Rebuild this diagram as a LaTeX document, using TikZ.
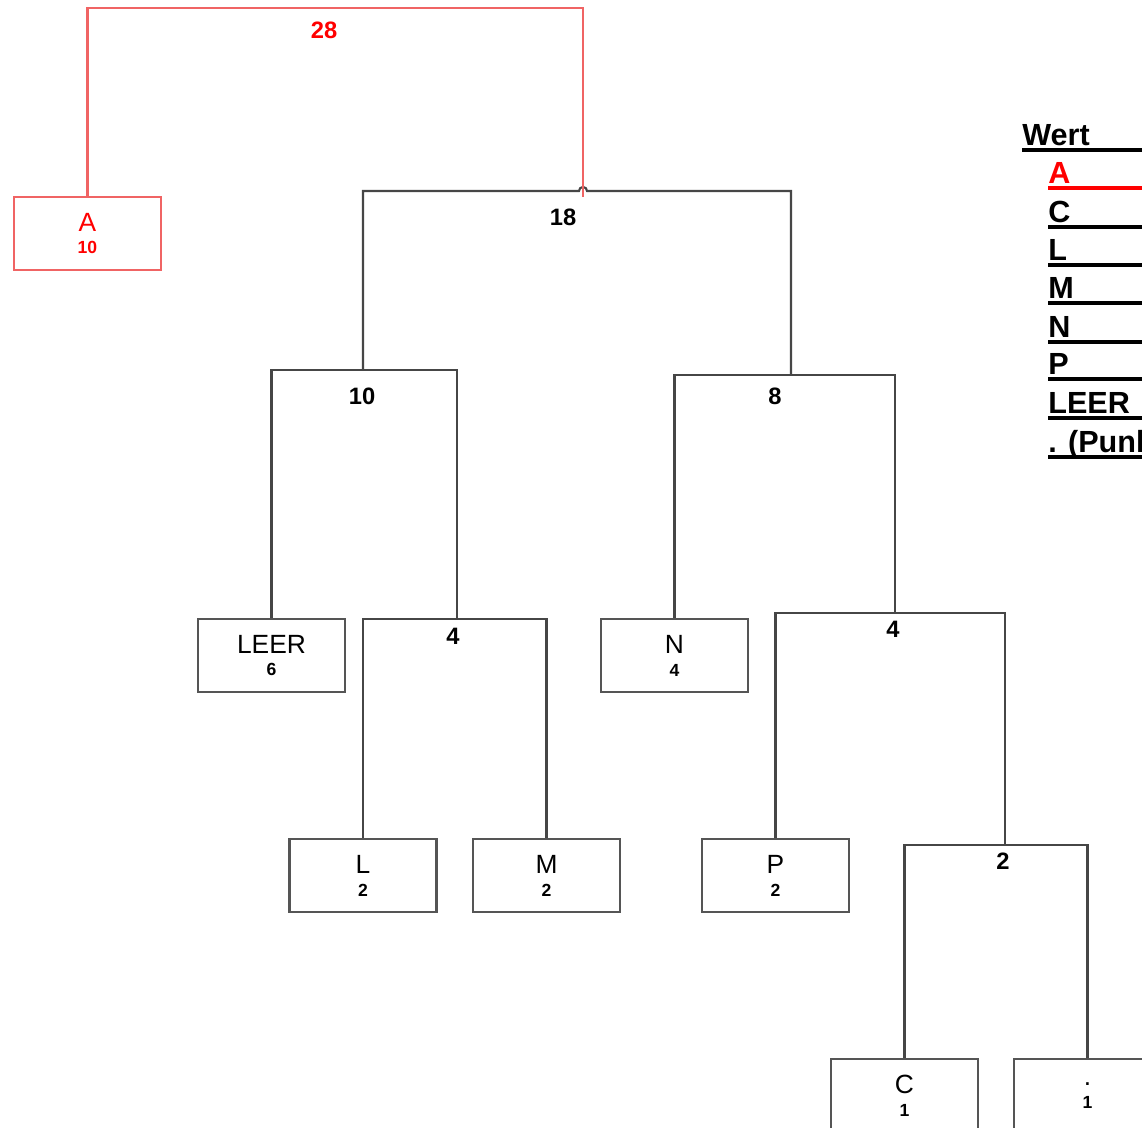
\documentclass[tikz,border=0pt]{standalone}
\usepackage{fontspec}
\setmainfont{Liberation Sans}
\usepackage{tikz}
\usetikzlibrary{positioning, calc}
\definecolor{linegray}{RGB}{70,70,70}
\definecolor{boxgray}{RGB}{85,85,85}
\definecolor{lightred}{RGB}{240,100,100}
\definecolor{pure}{RGB}{255,0,0}
\newcommand{\valfont}{\bfseries\fontsize{10}{12}\selectfont}
\tikzset{
    leaf/.style={
        rectangle,
        draw=boxgray,
        line width=1.2pt,
        minimum width=2.94cm,
        minimum height=1.46cm,
        inner sep=0pt,
        align=center,
        font=\fontsize{15}{13}\selectfont
    },
    weight/.style={
        inner sep=0pt,
        font=\bfseries\fontsize{13.5}{16}\selectfont
    },
    branch/.style={
        draw=linegray,
        line width=1.2pt
    },
    redbranch/.style={
        draw=lightred,
        line width=1.2pt
    },
    legend/.style={
        anchor=base west,
        inner sep=0pt,
        font=\bfseries\fontsize{17.4}{20}\selectfont
    },
    uline/.style={
        line width=2pt
    }
}
\begin{document}
\begin{tikzpicture}[x=0.02cm, y=-0.02cm]
    \clip (0,0) rectangle (1142,1127);
    \fill[white] (0,0) rectangle (1142,1127);

    % Leaves
    \node[leaf, draw=lightred, text=pure] (A) at (87.5,233.5) {A\\{\valfont 10}};
    \node[leaf] (leer) at (271.5,655.5) {LEER\\{\valfont 6}};
    \node[leaf] (N) at (674.5,655.5) {N\\{\valfont 4}};
    \node[leaf] (L) at (363,875.5) {L\\{\valfont 2}};
    \node[leaf] (M) at (546.5,875.5) {M\\{\valfont 2}};
    \node[leaf] (P) at (775.5,875.5) {P\\{\valfont 2}};
    \node[leaf] (C) at (904.5,1095.5) {C\\{\valfont 1}};
    \node[leaf] (dot) at (1087.5,1095.5) {.\\{\valfont 1}};

    % Inner nodes
    \coordinate (h28) at (324,8);
    \coordinate (h18) at (583,191);
    \coordinate (h10) at (363,370);
    \coordinate (h8) at (791,375);
    \coordinate (h4l) at (457,619);
    \coordinate (h4r) at (895,613);
    \coordinate (h2) at (1005,845);

    \node[weight, text=pure] (w28) at (324,30) {28};
    \node[weight] (w18) at (563,217) {18};
    \node[weight] (w10) at (362,396) {10};
    \node[weight] (w8) at (775,396) {8};
    \node[weight] (w4l) at (453,636) {4};
    \node[weight] (w4r) at (893,629) {4};
    \node[weight] (w2) at (1003,861) {2};

    % Branches
    \draw[branch] (h10) |- ([xshift=-2.3pt]h18) arc[start angle=180, end angle=0, radius=2.3pt] -| (h8);
    \draw[branch] (leer.north) |- (h10) -| (h4l);
    \draw[branch] (N.north) |- (h8) -| (h4r);
    \draw[branch] (L.north) |- (h4l) -| (M.north);
    \draw[branch] (P.north) |- (h4r) -| (h2);
    \draw[branch] (C.north) |- (h2) -| (dot.north);
    \draw[redbranch] (A.north) |- (h28) -| ([yshift=-3.4pt]h18);

    % Legend
    \node[legend] (wert) at (1022,145) {Wert};
    \node[legend, text=pure] (legA) at (1048,183) {A};
    \node[legend] (legC) at (1048,222) {C};
    \node[legend] (legL) at (1048,260) {L};
    \node[legend] (legM) at (1048,298) {M};
    \node[legend] (legN) at (1048,337) {N};
    \node[legend] (legP) at (1048,374) {P};
    \node[legend] (legLeer) at (1048,413) {LEER};
    \node[legend] (legPunkt) at (1048,452) {. (Punkt)};

    \draw[uline] ([yshift=-2.8pt]wert.base west) -- ++(150,0);
    \draw[uline, draw=pure] ([yshift=-2.7pt]legA.base west) -- ++(150,0);
    \draw[uline] ([yshift=-2.7pt]legC.base west) -- ++(150,0);
    \draw[uline] ([yshift=-2.7pt]legL.base west) -- ++(150,0);
    \draw[uline] ([yshift=-2.7pt]legM.base west) -- ++(150,0);
    \draw[uline] ([yshift=-2.7pt]legN.base west) -- ++(150,0);
    \draw[uline] ([yshift=-2.7pt]legP.base west) -- ++(150,0);
    \draw[uline] ([yshift=-2.7pt]legLeer.base west) -- ++(150,0);
    \draw[uline] ([yshift=-2.7pt]legPunkt.base west) -- ++(150,0);
\end{tikzpicture}
\end{document}
